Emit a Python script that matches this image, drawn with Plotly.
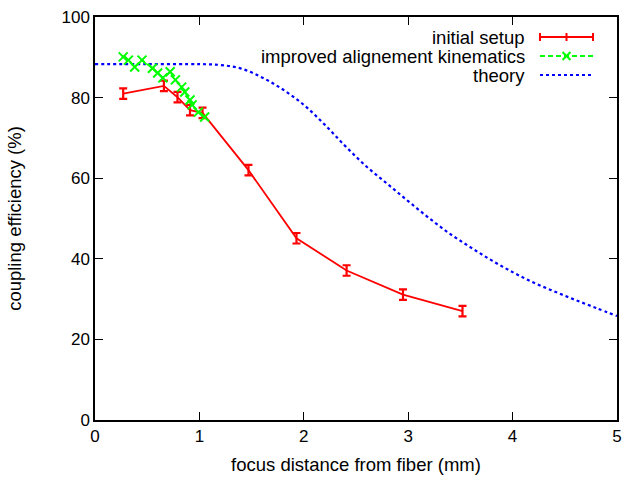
import plotly.graph_objects as go

# initial setup (with error bars)
setup_x = [0.27, 0.66, 0.79, 0.91, 1.03, 1.47, 1.93, 2.41, 2.95, 3.52]
setup_y = [81.0, 82.9, 80.1, 76.9, 76.2, 62.0, 45.1, 37.1, 31.1, 27.0]
setup_err = [1.3, 1.3, 1.3, 1.3, 1.3, 1.3, 1.3, 1.3, 1.3, 1.3]

# improved alignement kinematics
improved_x = [0.27, 0.32, 0.38, 0.45, 0.55, 0.60, 0.65, 0.72, 0.77, 0.83, 0.86, 0.91, 0.93, 0.99, 1.05]
improved_y = [90.1, 89.3, 87.6, 89.3, 87.3, 86.1, 84.9, 86.4, 84.4, 82.6, 81.4, 79.4, 78.2, 76.4, 75.2]

# theory curve
theory_x = [0.0, 0.5, 1.0, 1.2, 1.4, 1.6, 1.8, 2.0, 2.2, 2.4, 2.6, 2.8, 3.0,
            3.2, 3.4, 3.6, 3.8, 4.0, 4.2, 4.4, 4.6, 4.8, 5.0]
theory_y = [88.3, 88.3, 88.3, 88.1, 87.2, 85.0, 82.0, 78.2, 73.3, 67.9, 62.9, 58.6, 54.3,
            50.1, 46.2, 42.8, 39.6, 36.7, 34.1, 31.9, 29.8, 27.8, 25.8]

legend_labels = ["initial setup", "improved alignement kinematics", "theory"]

RED = "#ff0000"
GREEN = "#00ff00"
BLUE = "#0000ff"
FONT = "Liberation Sans, Arial, sans-serif"
FS_TICK = 17
FS_TEXT = 18.5
GREEN_DASH = "5px,3px"

fig = go.Figure()

fig.add_trace(go.Scatter(
    x=theory_x, y=theory_y, mode="lines", line=dict(color=BLUE, width=2.2, dash="dot"),
    line_shape="spline", name=legend_labels[2],
))
fig.add_trace(go.Scatter(
    x=setup_x, y=setup_y, mode="lines",
    line=dict(color=RED, width=1.8),
    error_y=dict(type="data", array=setup_err, color=RED, thickness=2.2, width=4),
    name=legend_labels[0],
))
fig.add_trace(go.Scatter(
    x=improved_x, y=improved_y, mode="lines+markers",
    line=dict(color=GREEN, width=1.8, dash=GREEN_DASH),
    marker=dict(symbol="x-thin", size=9, line=dict(color=GREEN, width=2)),
    name=legend_labels[1],
))

# hand-drawn gnuplot style key: text right-aligned, sample on the right
W, H = 522.0, 403.0
rows_px = [37, 56, 75]
text_right = (527 - 95) / W
s0, s1 = (540 - 95) / W, (593 - 95) / W
smid = (s0 + s1) / 2
shapes = []
annotations = []
for i, (label, py) in enumerate(zip(legend_labels, rows_px)):
    yp = (420 - py) / H
    annotations.append(dict(
        x=text_right, y=yp, xref="paper", yref="paper", text=label, showarrow=False,
        xanchor="right", yanchor="middle", font=dict(size=FS_TEXT, color="black", family=FONT),
    ))
    if i == 0:
        shapes.append(dict(type="line", xref="paper", yref="paper", x0=s0, x1=s1, y0=yp, y1=yp,
                           line=dict(color=RED, width=1.8)))
        for xx in (s0, smid, s1):
            shapes.append(dict(type="line", xref="paper", yref="paper", x0=xx, x1=xx,
                               y0=yp - 4 / H, y1=yp + 4 / H, line=dict(color=RED, width=2)))
    elif i == 1:
        shapes.append(dict(type="line", xref="paper", yref="paper", x0=s0, x1=s1, y0=yp, y1=yp,
                           line=dict(color=GREEN, width=1.8, dash=GREEN_DASH)))
        dx, dy = 4 / W, 4 / H
        shapes.append(dict(type="line", xref="paper", yref="paper", x0=smid - dx, x1=smid + dx,
                           y0=yp - dy, y1=yp + dy, line=dict(color=GREEN, width=2)))
        shapes.append(dict(type="line", xref="paper", yref="paper", x0=smid - dx, x1=smid + dx,
                           y0=yp + dy, y1=yp - dy, line=dict(color=GREEN, width=2)))
    else:
        shapes.append(dict(type="line", xref="paper", yref="paper", x0=s0, x1=s1, y0=yp, y1=yp,
                           line=dict(color=BLUE, width=2.2, dash="dot")))

axis_common = dict(
    showgrid=False, zeroline=False, showline=True, linecolor="black", linewidth=1.5,
    mirror="ticks", ticks="inside", ticklen=8, tickwidth=1.2, tickcolor="black",
    tickfont=dict(size=FS_TICK, color="black", family=FONT),
)

fig.update_layout(
    width=623, height=479,
    margin=dict(l=95, r=6, t=17, b=59, autoexpand=False),
    plot_bgcolor="white", paper_bgcolor="white",
    showlegend=False,
    shapes=shapes, annotations=annotations,
    font=dict(family=FONT, color="black"),
    xaxis=dict(range=[0, 5], dtick=1,
               title=dict(text="focus distance from fiber (mm)", font=dict(size=FS_TEXT), standoff=13),
               **axis_common),
    yaxis=dict(range=[0, 100], dtick=20,
               title=dict(text="coupling efficiency (%)", font=dict(size=FS_TEXT), standoff=35),
               **axis_common),
)

fig.write_html("out.html", config={"displayModeBar": False},
               post_script="document.body.style.margin='0';")
